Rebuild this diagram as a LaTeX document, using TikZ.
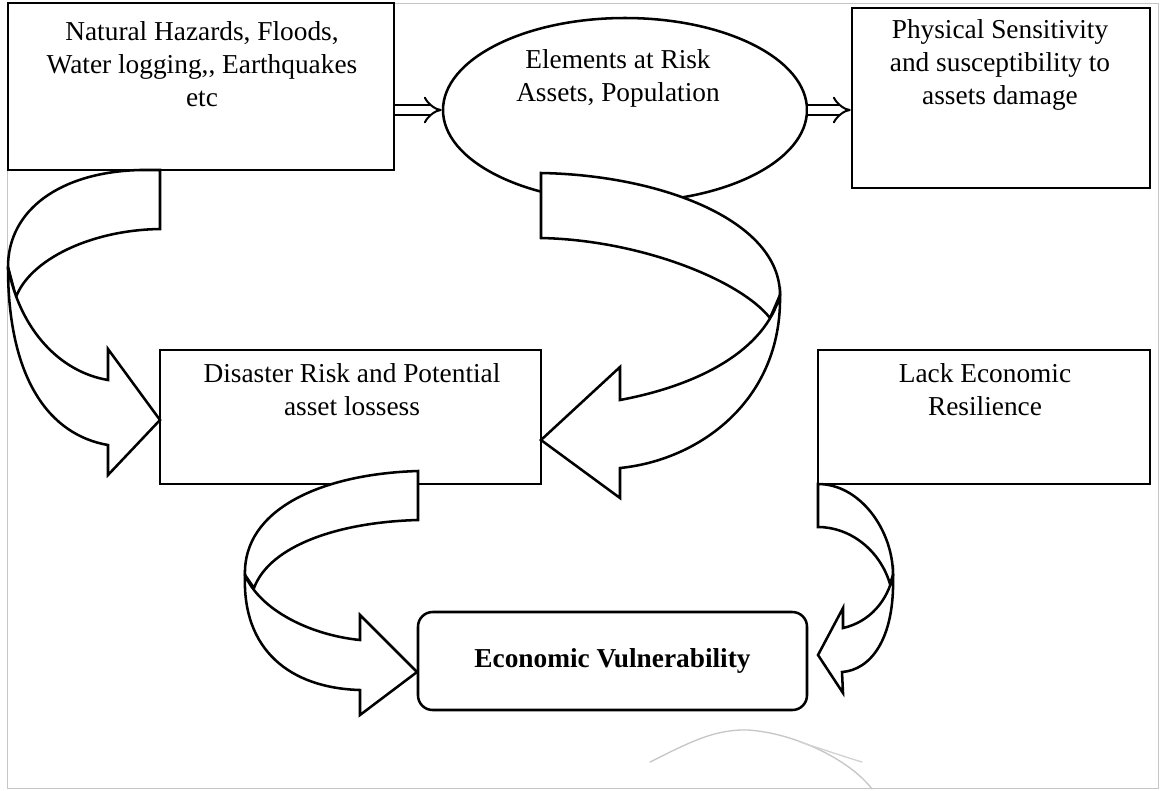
\documentclass[tikz,border=0pt]{standalone}
\usepackage{fontspec}
\setmainfont{Liberation Serif}
\usetikzlibrary{arrows.meta,shapes.geometric}
\begin{document}
\begin{tikzpicture}[x=0.75pt,y=-0.75pt,
  box/.style={draw, line width=1.9pt, rectangle, inner sep=0pt},
  lbl/.style={align=center, font=\fontsize{20.5}{24.75}\selectfont, inner sep=0pt},
  band/.style={draw, fill=white, line width=1.9pt, line join=miter},
  dbl/.style={double, double distance=5.5pt, line width=1.5pt, -{Implies}},
  frame/.style={draw=gray!45, line width=0.5pt},
  pencil/.style={draw=gray!45, line width=1pt, line cap=round}]
\useasboundingbox (0,0) rectangle (1163,790);
\draw[frame] (7,3) rectangle (1158,788);

% boxes
\node[box, minimum width=289.5pt, minimum height=125.25pt] (haz) at (201,86.5) {};
\node[draw, ellipse, line width=1.9pt, inner sep=0pt, minimum width=273pt, minimum height=138pt] (elem) at (625,110) {};
\node[box, minimum width=223.5pt, minimum height=135pt] (phys) at (1001,98) {};
\node[box, minimum width=285.75pt, minimum height=100.5pt] (dis) at (350.5,417) {};
\node[box, minimum width=249pt, minimum height=100.5pt] (lack) at (984,417) {};
\node[box, rounded corners=11pt, minimum width=291.75pt, minimum height=73.5pt, font=\fontsize{20.5}{24.75}\selectfont\bfseries] (ev) at (612.5,661) {Economic Vulnerability};

% labels
\node[lbl] (hazt) at (202,64) {Natural Hazards, Floods,\\Water logging,\kern0pt, Earthquakes\\etc};
\node[lbl] (elemt) at (618,78) {Elements at Risk\\Assets, Population};
\node[lbl] (physt) at (1000,65) {Physical Sensitivity\\and susceptibility to\\assets damage};
\node[lbl] (dist) at (352,390) {Disaster Risk and Potential\\asset lossess};
\node[lbl] (lackt) at (985,390) {Lack Economic\\Resilience};

% double arrows
\draw[dbl] (haz.east |- elem.west) -- (elem.west);
\draw[dbl] (elem.east) -- (phys.west |- elem.east);

% left curved arrow
\draw[band] (160,170) -- (160,229) .. controls (90,230) and (30,260) .. (16,297) -- (8,267) .. controls (8,210) and (60,172) .. (140,170) -- cycle;
\draw[band] (8,267) .. controls (8,380) and (50,435) .. (108,445) -- (108,475) -- (160,420) -- (108,349) -- (108,380) .. controls (60,372) and (20,330) .. (8,267) -- cycle;

% middle curved arrow
\draw[band] (541,173) -- (541,238) .. controls (640,240) and (740,280) .. (770,318) -- (780,295) .. controls (780,220) and (660,175) .. (541,173) -- cycle;
\draw[band] (780,295) .. controls (782,400) and (700,460) .. (620,468) -- (620,498) -- (541,440) -- (620,367) -- (620,400) .. controls (700,385) and (765,350) .. (780,295) -- cycle;

% bottom left curved arrow
\draw[band] (418,471) -- (418,520) .. controls (340,522) and (270,545) .. (254,588) -- (245,575) .. controls (243,510) and (320,474) .. (418,471) -- cycle;
\draw[band] (245,575) .. controls (242,650) and (290,688) .. (360,690) -- (360,715) -- (417,672) -- (360,615) -- (360,640) .. controls (310,635) and (260,610) .. (245,575) -- cycle;

% bottom right curved arrow
\draw[band] (818,484) -- (818,527) .. controls (850,527) and (880,550) .. (890,584) -- (893,575) .. controls (893,530) and (860,484) .. (818,484) -- cycle;
\draw[band] (893,575) .. controls (895,640) and (870,670) .. (842,672) -- (843,693) -- (818,655) -- (843,608) -- (843,628) .. controls (870,622) and (888,600) .. (893,575) -- cycle;

% pencil mark
\draw[pencil] (650,762) .. controls (690,742) and (715,729) .. (748,730) .. controls (795,733) and (850,760) .. (872,789);
\draw[pencil, draw=gray!35] (800,742) .. controls (825,750) and (845,757) .. (862,762);
\end{tikzpicture}
\end{document}
